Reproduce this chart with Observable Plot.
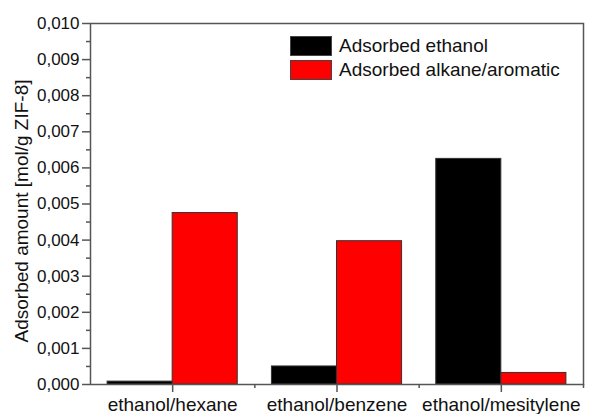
<!DOCTYPE html>
<html>
<head>
<meta charset="utf-8">
<script src="https://cdn.jsdelivr.net/npm/d3@7"></script>
<script src="https://cdn.jsdelivr.net/npm/@observablehq/plot@0.6"></script>
<style>
  html, body { margin: 0; padding: 0; background: #fff; }
  #wrap { position: relative; width: 596px; height: 414px; font-family: "Liberation Sans", Arial, sans-serif; color: #111; }
  #ylabel { position: absolute; left: 22px; top: 211px; transform: translate(-50%, -50%) rotate(-90deg); white-space: nowrap; font-size: 19px; }
  #legend { position: absolute; left: 290px; top: 34px; font-size: 19px; line-height: 24px; }
  .li { display: flex; align-items: center; height: 24px; }
  .sw { width: 42px; height: 20px; box-sizing: border-box; border: 1px solid #444; margin-right: 7px; }
</style>
</head>
<body>
<div id="wrap"></div>
<script>
const categories = ["ethanol/hexane", "ethanol/benzene", "ethanol/mesitylene"];
const seriesNames = ["Adsorbed ethanol", "Adsorbed alkane/aromatic"];
const seriesColors = ["#000000", "#ff0000"];
const ethanolValues = [0.00008, 0.0005, 0.00625];
const otherValues = [0.00475, 0.00397, 0.00032];
const yTickValues = [0, 0.001, 0.002, 0.003, 0.004, 0.005, 0.006, 0.007, 0.008, 0.009, 0.010];
const yMinorTicks = [0.0005, 0.0015, 0.0025, 0.0035, 0.0045, 0.0055, 0.0065, 0.0075, 0.0085, 0.0095];
const xBoundaryTicks = [0.5, 1.5, 2.5];

const barWidth = 0.396; // fraction of a category slot per bar
const data = [];
categories.forEach((c, i) => {
  data.push({cat: c, i, s: seriesNames[0], x1: i - barWidth, x2: i, v: ethanolValues[i]});
  data.push({cat: c, i, s: seriesNames[1], x1: i, x2: i + barWidth, v: otherValues[i]});
});

const plot = Plot.plot({
  width: 596,
  height: 414,
  marginLeft: 90,
  marginRight: 13,
  marginTop: 23,
  marginBottom: 30,
  style: {fontFamily: "'Liberation Sans', Arial, sans-serif", color: "#111", background: "#fff"},
  x: {type: "linear", domain: [-0.5, 2.5], axis: null},
  y: {domain: [0, 0.010], axis: null},
  color: {domain: seriesNames, range: seriesColors},
  marks: [
    Plot.rectY(data, {x1: "x1", x2: "x2", y: "v", fill: "s", stroke: "#333", strokeWidth: 1}),
    Plot.frame({stroke: "#555", strokeWidth: 1.5}),
    Plot.axisY({ticks: yTickValues, tickSize: 8, tickPadding: 3, tickFormat: d => d.toFixed(3).replace(".", ","), fontSize: 17, label: null, stroke: "#555", strokeWidth: 1.5}),
    Plot.axisY({ticks: yMinorTicks, tickSize: 4, tickFormat: () => "", label: null, stroke: "#555", strokeWidth: 1.5}),
    Plot.axisX({ticks: [0, 1, 2], tickSize: 8, tickPadding: 5, tickFormat: i => categories[i], fontSize: 19, label: null, stroke: "#555", strokeWidth: 1.5}),
    Plot.axisX({ticks: xBoundaryTicks, tickSize: 4, tickFormat: () => "", label: null, stroke: "#555", strokeWidth: 1.5})
  ]
});

const wrap = document.getElementById("wrap");
wrap.appendChild(plot);

const yl = document.createElement("div");
yl.id = "ylabel";
yl.textContent = "Adsorbed amount [mol/g ZIF-8]";
wrap.appendChild(yl);

const lg = document.createElement("div");
lg.id = "legend";
seriesNames.forEach((n, k) => {
  const row = document.createElement("div");
  row.className = "li";
  const sw = document.createElement("div");
  sw.className = "sw";
  sw.style.background = seriesColors[k];
  const t = document.createElement("span");
  t.textContent = n;
  row.appendChild(sw);
  row.appendChild(t);
  lg.appendChild(row);
});
wrap.appendChild(lg);
</script>
</body>
</html>
